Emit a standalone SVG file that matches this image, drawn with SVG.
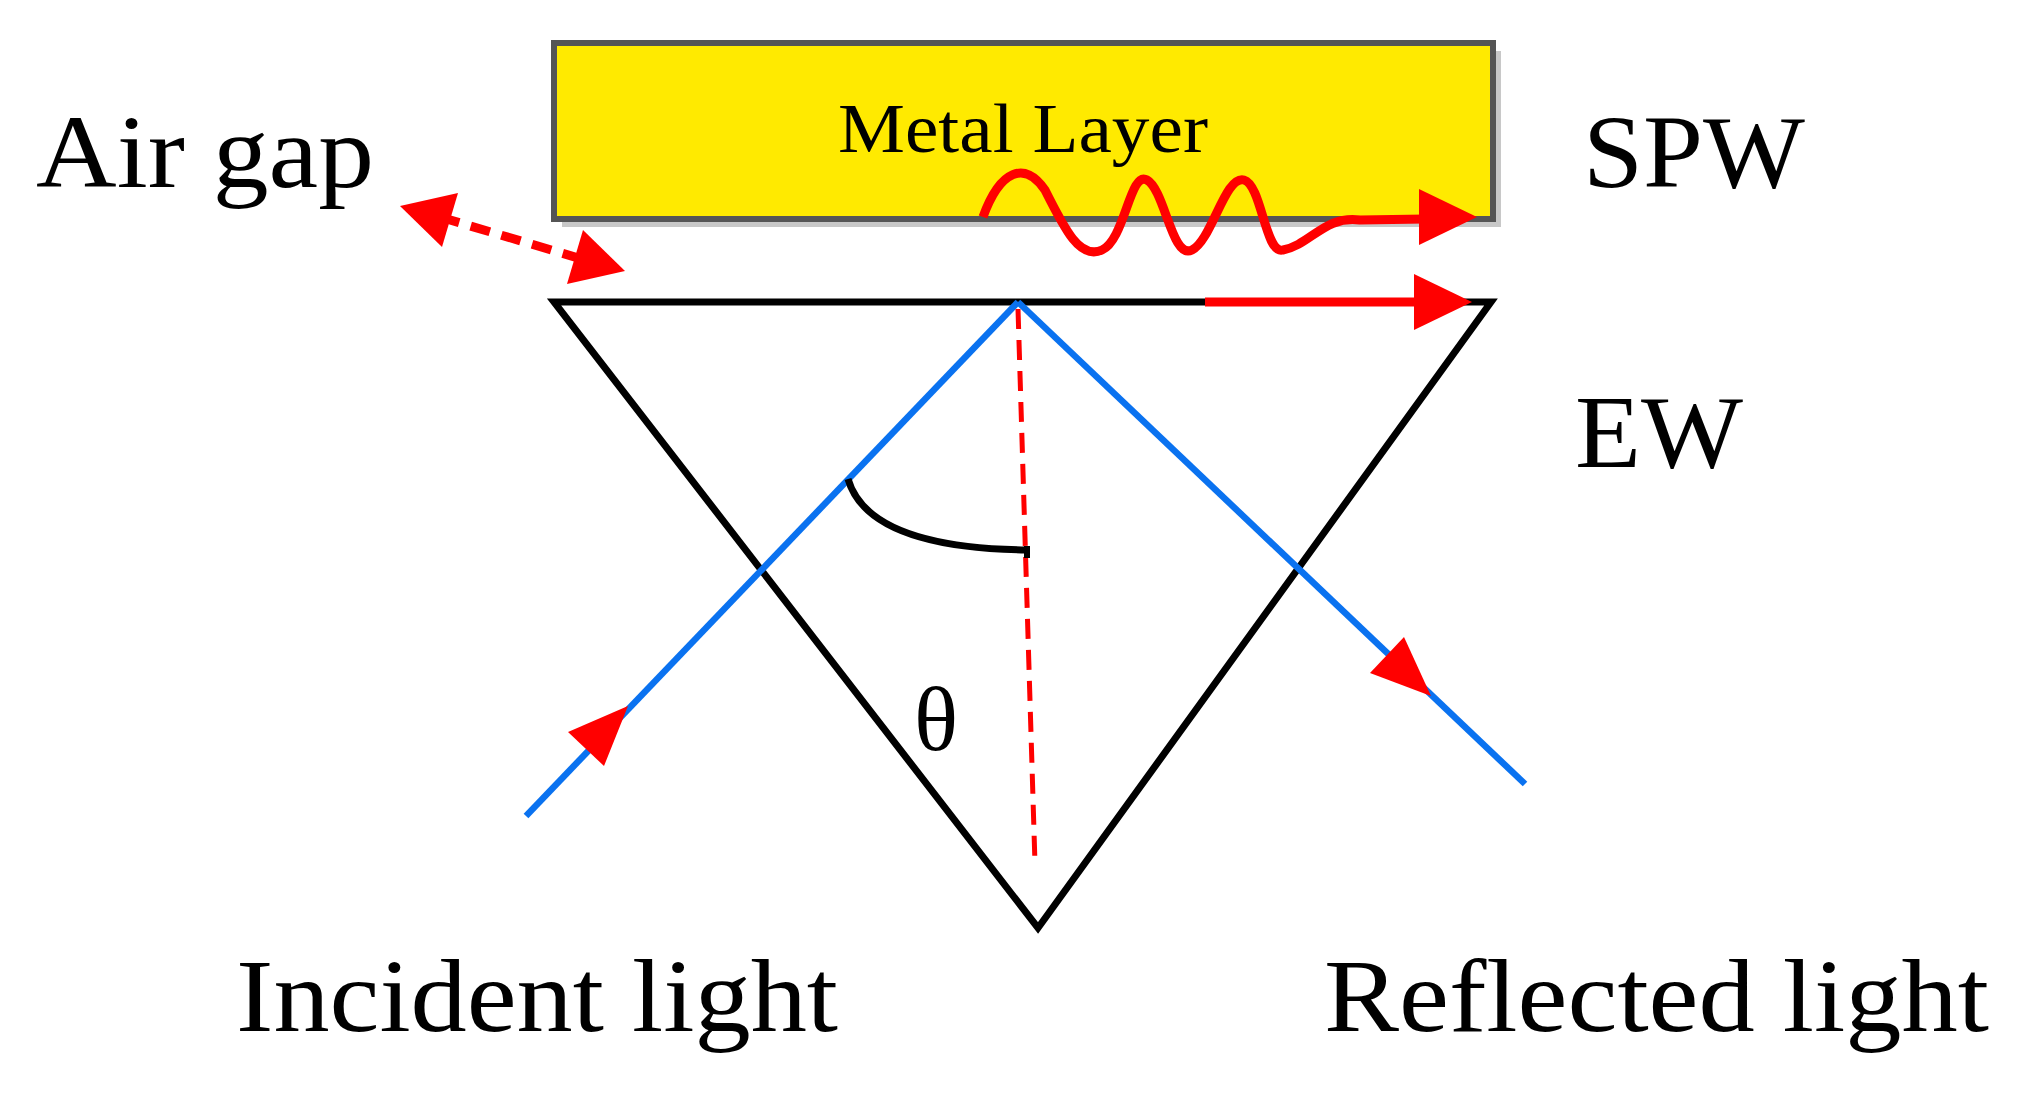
<svg xmlns="http://www.w3.org/2000/svg" width="2021" height="1096" viewBox="0 0 2021 1096">
<style>
.t{font-family:"Liberation Serif","Times New Roman",serif;fill:#000}
.red{stroke:#ff0000;fill:none;stroke-width:9}
.h{fill:#ff0000}
</style>
<rect width="2021" height="1096" fill="#fff"/>
<g id="metal">
<rect x="562" y="51" width="939" height="176" fill="#c8c8c8"/>
<rect x="554" y="43" width="939" height="176" fill="#ffea00" stroke="#555" stroke-width="6"/>
<text class="t" x="838" y="152" font-size="70" textLength="370" lengthAdjust="spacingAndGlyphs">Metal Layer</text>
</g>
<g id="labels">
<text class="t" x="36" y="187" font-size="104" textLength="338" lengthAdjust="spacingAndGlyphs">Air gap</text>
<text class="t" x="1583" y="187" font-size="104" textLength="222" lengthAdjust="spacingAndGlyphs">SPW</text>
<text class="t" x="1575" y="467" font-size="104" textLength="168" lengthAdjust="spacingAndGlyphs">EW</text>
<text class="t" x="236" y="1031" font-size="104" textLength="602" lengthAdjust="spacingAndGlyphs">Incident light</text>
<text class="t" x="1324" y="1031" font-size="104" textLength="665" lengthAdjust="spacingAndGlyphs">Reflected light</text>
<text class="t" x="914" y="750" font-size="92">θ</text>
</g>
<g id="prism">
<path d="M554,302 L1491,302 L1038,928 Z" fill="none" stroke="#000" stroke-width="7"/>
</g>
<g id="connectors">
<line x1="526" y1="816" x2="1018" y2="302" stroke="#0a72f0" stroke-width="6.5"/>
<line x1="1018" y1="302" x2="1525" y2="784" stroke="#0a72f0" stroke-width="6.5"/>
<polygon class="h" points="628,706 604,766 568,732"/>
<polygon class="h" points="1431,696 1370,673 1404,637"/>
<line x1="1018" y1="309" x2="1035" y2="864" stroke="#ff0000" stroke-width="5" stroke-dasharray="20,11"/>
<path d="M848,479 Q868,548 1027,550" fill="none" stroke="#000" stroke-width="7"/>
<line x1="1027" y1="546" x2="1027" y2="558" stroke="#000" stroke-width="6"/>
<line x1="1205" y1="302" x2="1420" y2="302" class="red"/>
<polygon class="h" points="1472,302 1414,274 1414,330"/>
<path d="M983,217 C1000,170 1025,160 1045,190 C1065,230 1080,260 1102,250 C1125,240 1130,170 1147,180 C1165,190 1172,260 1192,250 C1212,240 1225,175 1244,180 C1262,185 1265,255 1283,250 C1310,245 1325,215 1360,220 L1425,219" class="red" stroke-width="10"/>
<polygon class="h" points="1477,217 1419,189 1419,245"/>
<line x1="440" y1="217" x2="585" y2="260" class="red" stroke-dasharray="20,12"/>
<polygon class="h" points="625,271 567,284 583,230"/>
<polygon class="h" points="400,206 442,247 458,193"/>
</g>
</svg>
